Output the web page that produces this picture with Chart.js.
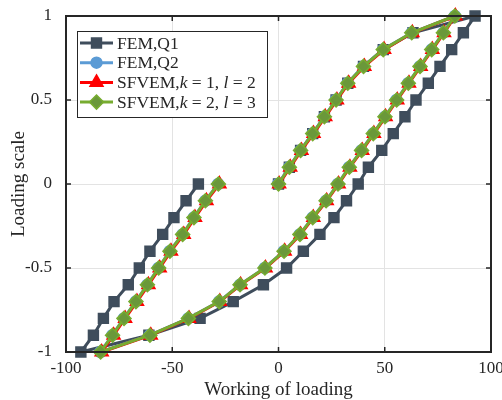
<!DOCTYPE html>
<html>
<head>
<meta charset="utf-8">
<script src="https://cdn.jsdelivr.net/npm/chart.js@4/dist/chart.umd.min.js"></script>
<style>
  body { margin: 0; background: #fff; }
  #wrap { width: 502px; height: 400px; }
</style>
</head>
<body>
<div id="wrap"><canvas id="chart" width="502" height="400"></canvas></div>
<script>
(function(){
  'use strict';

  // loading path: 0 -> 1 -> -1 -> 0
  let loadScale = [0, 0.1, 0.2, 0.3, 0.4, 0.5, 0.6, 0.7, 0.8, 0.9, 1,
    0.9, 0.8, 0.7, 0.6, 0.5, 0.4, 0.3, 0.2, 0.1, 0,
    -0.1, -0.2, -0.3, -0.4, -0.5, -0.6, -0.7, -0.8, -0.9, -1,
    -0.9, -0.8, -0.7, -0.6, -0.5, -0.4, -0.3, -0.2, -0.1, 0];

  let femQ1 = [0, 5.1, 10.4, 16.1, 21.6, 27.1, 32.6, 40, 49.3, 63.3, 92.5,
    87, 81.5, 76, 70.5, 64.7, 59.5, 54, 48.6, 42.3, 37.5,
    32, 26.1, 19.5, 11.7, 3.8, -7.1, -21.3, -36.9, -61, -93,
    -87.1, -82.4, -77.4, -70.7, -65.5, -60.5, -54.5, -49.2, -43.5, -37.7];

  let femQ2 = [-0.2, 5, 10.3, 16, 21.5, 27, 32.5, 39.9, 49.2, 62.6, 83,
    77.5, 72, 66.5, 61, 55.5, 50, 44.5, 39, 33.2, 27.9,
    22.3, 16, 10, 2.5, -6.5, -18.2, -28, -42.5, -60.6, -83.8,
    -78.2, -72.8, -67.2, -61.8, -56.5, -51.2, -45.2, -39.9, -34.5, -28.4];

  let sfvem12 = [0.3, 5.5, 10.8, 16.5, 22, 27.5, 33, 40.4, 49.7, 63, 83.2,
    77.9, 72.4, 66.9, 61.4, 55.9, 50.4, 44.9, 39.4, 33.6, 28.3,
    22.7, 16.4, 10.4, 2.9, -6.1, -17.8, -27.6, -42.1, -60.1, -83.2,
    -77.6, -72.2, -66.6, -61.2, -55.9, -50.6, -44.6, -39.3, -33.9, -27.8];

  let sfvem23 = [0, 5.1, 10.4, 16.1, 21.6, 27.1, 32.6, 40, 49.3, 62.7, 83,
    77.6, 72.1, 66.6, 61.1, 55.6, 50.1, 44.6, 39.1, 33.3, 28,
    22.4, 16.1, 10.1, 2.6, -6.4, -18.1, -27.9, -42.4, -60.5, -83.7,
    -78.1, -72.7, -67.1, -61.7, -56.4, -51.1, -45.1, -39.8, -34.4, -28.3];

  let xTicks = [-100, -50, 0, 50, 100];
  let yTicks = [-1, -0.5, 0, 0.5, 1];

  let serif = "'Liberation Serif', 'DejaVu Serif', serif";
  let axisColor = '#262626';

  function pts(xs) {
    return xs.map(function(x, i){ return { x: x, y: loadScale[i] }; });
  }

  function makeSet(label, xs, color, fill, style, r, order, parts) {
    return {
      label: label,
      legendParts: parts,
      data: pts(xs),
      showLine: true,
      borderColor: color,
      backgroundColor: fill,
      pointBackgroundColor: fill,
      pointBorderColor: color,
      pointBorderWidth: 1.5,
      pointStyle: style,
      pointRadius: r,
      pointHoverRadius: r,
      borderWidth: 3,
      tension: 0,
      clip: false,
      order: order,
    };
  }

  let datasets = [
    makeSet('FEM,Q1', femQ1, '#3f4d5c', '#3f4d5c', 'rect', 7, 3,
      [['FEM,Q1', false]]),
    makeSet('FEM,Q2', femQ2, '#5b9bd5', '#5b9bd5', 'circle', 5.5, 2,
      [['FEM,Q2', false]]),
    makeSet('SFVEM,k=1,l=2', sfvem12, '#ff0000', '#ff0000', 'triangle', 7.5, 1,
      [['SFVEM,', false], ['k', true], [' = 1, ', false], ['l', true], [' = 2', false]]),
    makeSet('SFVEM,k=2,l=3', sfvem23, '#77ac30', '#6a983a', 'rectRot', 7, 0,
      [['SFVEM,', false], ['k', true], [' = 2, ', false], ['l', true], [' = 3', false]]),
  ];

  // frame, inward ticks and the legend box (MATLAB look)
  let matlabBox = {
    id: 'matlabBox',
    afterDraw: function(chart) {
      let ctx = chart.ctx;
      let a = chart.chartArea;
      let xs = chart.scales.x, ys = chart.scales.y;
      ctx.save();
      ctx.strokeStyle = axisColor;
      ctx.lineWidth = 2;
      ctx.strokeRect(a.left, a.top, a.right - a.left, a.bottom - a.top);
      ctx.lineWidth = 1.5;
      ctx.beginPath();
      xTicks.forEach(function(v){
        let px = xs.getPixelForValue(v);
        ctx.moveTo(px, a.bottom); ctx.lineTo(px, a.bottom - 5);
        ctx.moveTo(px, a.top); ctx.lineTo(px, a.top + 5);
      });
      yTicks.forEach(function(v){
        let py = ys.getPixelForValue(v);
        ctx.moveTo(a.left, py); ctx.lineTo(a.left + 5, py);
        ctx.moveTo(a.right, py); ctx.lineTo(a.right - 5, py);
      });
      ctx.stroke();

      // legend
      let bx = 77, by = 31, bw = 190, bh = 86;
      ctx.fillStyle = '#fff';
      ctx.fillRect(bx, by, bw, bh);
      ctx.strokeStyle = axisColor;
      ctx.lineWidth = 1;
      ctx.strokeRect(bx + 0.5, by + 0.5, bw, bh);
      chart.data.datasets.forEach(function(ds, i){
        let yy = by + 12 + i * 19.7;
        ctx.strokeStyle = ds.borderColor;
        ctx.lineWidth = 3;
        ctx.beginPath();
        ctx.moveTo(bx + 3, yy); ctx.lineTo(bx + 36, yy);
        ctx.stroke();
        ctx.fillStyle = ds.pointBackgroundColor;
        ctx.strokeStyle = ds.pointBorderColor;
        ctx.lineWidth = 1.5;
        Chart.helpers.drawPoint(ctx, { pointStyle: ds.pointStyle, radius: ds.pointRadius, borderWidth: 1.5, rotation: 0 }, bx + 19.5, yy);
        let tx = bx + 40;
        ctx.fillStyle = axisColor;
        ctx.textBaseline = 'middle';
        ds.legendParts.forEach(function(p){
          ctx.font = (p[1] ? 'italic ' : '') + '17.5px ' + serif;
          ctx.fillText(p[0], tx, yy + 1);
          tx += ctx.measureText(p[0]).width;
        });
      });
      ctx.restore();
    }
  };

  let canvas = document.getElementById('chart');

  new Chart(canvas, {
    type: 'scatter',
    data: { datasets: datasets },
    options: {
      responsive: false,
      animation: false,
      layout: { padding: { top: 16, right: 11, left: 0, bottom: 0 } },
      plugins: {
        legend: { display: false },
        tooltip: { enabled: false },
      },
      scales: {
        x: {
          type: 'linear',
          min: -100,
          max: 100,
          afterBuildTicks: function(s){ s.ticks = xTicks.map(function(v){ return { value: v }; }); },
          afterFit: function(s){ s.height = 48; s.paddingLeft = 0; s.paddingRight = 0; },
          grid: { color: '#e3e3e3', lineWidth: 1, drawTicks: false },
          border: { display: false },
          ticks: { padding: 6, color: axisColor, font: { family: serif, size: 17 } },
          title: { display: true, text: 'Working of loading', color: axisColor, padding: { top: 0, bottom: -1 }, font: { family: serif, size: 19 } },
        },
        y: {
          type: 'linear',
          min: -1,
          max: 1,
          afterBuildTicks: function(s){ s.ticks = yTicks.map(function(v){ return { value: v }; }); },
          afterFit: function(s){ s.width = 66; s.paddingTop = 0; s.paddingBottom = 0; },
          grid: { color: '#e3e3e3', lineWidth: 1, drawTicks: false },
          border: { display: false },
          ticks: { padding: 14, color: axisColor, font: { family: serif, size: 17 },
            callback: function(v){ return String(v); } },
          title: { display: true, text: 'Loading scale', color: axisColor, padding: { top: 8, bottom: 0 }, font: { family: serif, size: 19 } },
        },
      },
    },
    plugins: [matlabBox],
  });

})();
</script>
</body>
</html>
